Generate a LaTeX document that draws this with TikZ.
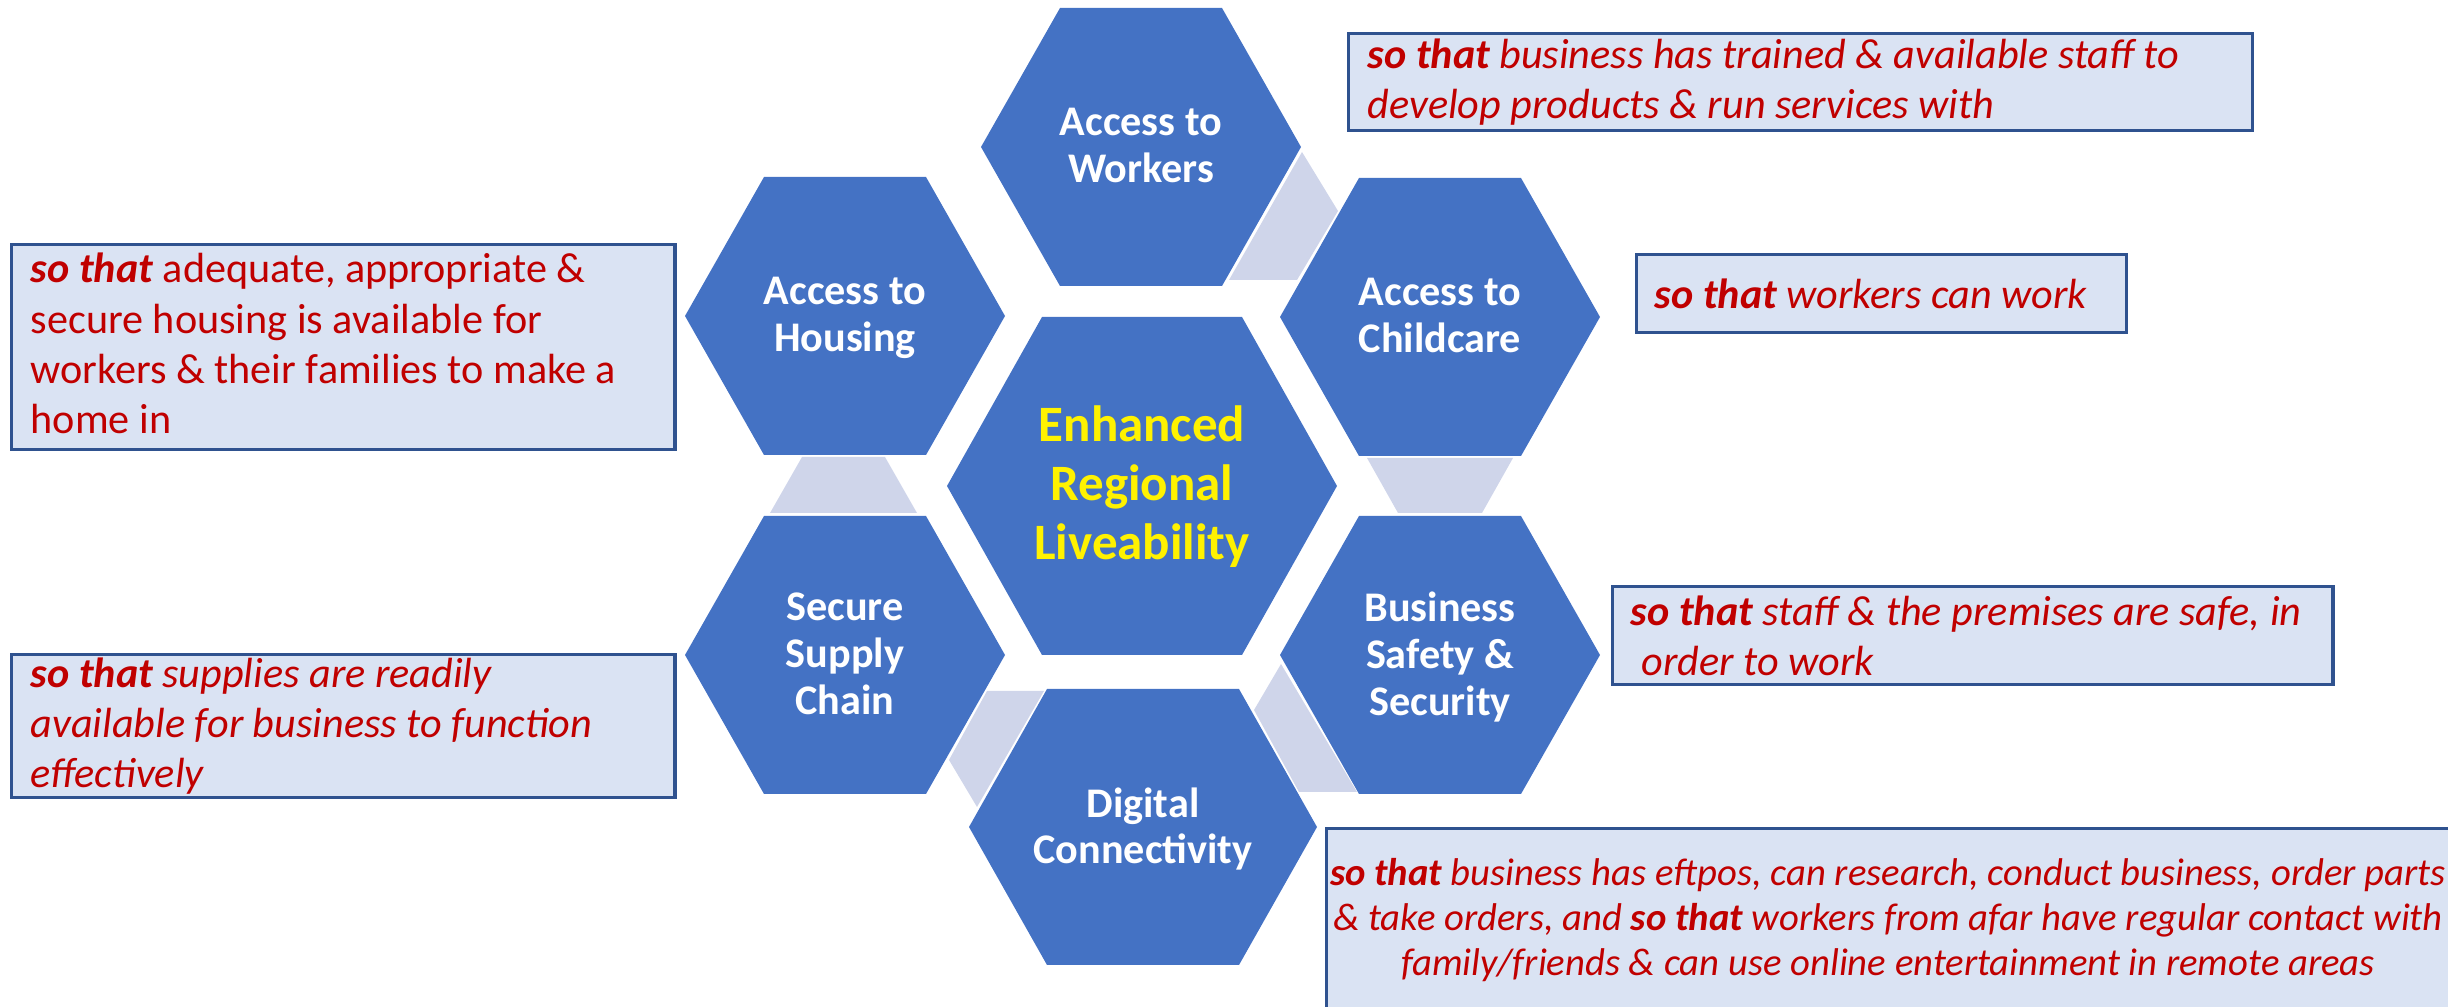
\documentclass[tikz,border=0pt]{standalone}
\usepackage{fontspec}
\setmainfont{Carlito}

\definecolor{hexblue}{HTML}{4472C4}
\definecolor{linkfill}{HTML}{CFD5EA}
\definecolor{notefill}{HTML}{DAE3F3}
\definecolor{noteline}{HTML}{2F528F}
\definecolor{notered}{HTML}{C00000}

\newcommand{\sothat}{\textbf{\textit{so that}}}

\tikzset{
  cell/.style={fill=hexblue},
  link/.style={fill=linkfill},
  celltext/.style={text=white, align=center, inner sep=0pt, yshift=-1.6pt,
    font=\bfseries\fontsize{12pt}{13.3pt}\selectfont,
    execute at begin node=\strut, execute at end node=\strut},
  notebox/.style={draw=noteline, line width=0.9pt, fill=notefill,
    inner sep=0pt, anchor=north west},
  notetext/.style={text=notered, align=left, inner sep=0pt, anchor=west,
    font=\itshape\fontsize{12pt}{14.2pt}\selectfont},
}

\begin{document}
\begin{tikzpicture}[x=0.01cm, y=-0.01cm]
  \useasboundingbox (0,0) rectangle (2448,1007);

  % hexagon cells (centre one and the six round it)
  \fill[cell] (947,486) -- (1042,317) -- (1242,317) -- (1337,486) -- (1242,655) -- (1042,655) -- cycle;
  \fill[cell] (981,147) -- (1060,8) -- (1222,8) -- (1301,147) -- (1222,286) -- (1060,286) -- cycle;
  \fill[cell] (1280,317) -- (1359,178) -- (1521,178) -- (1600,317) -- (1521,456) -- (1359,456) -- cycle;
  \fill[cell] (1280,655) -- (1359,516) -- (1521,516) -- (1600,655) -- (1521,794) -- (1359,794) -- cycle;
  \fill[cell] (969,827) -- (1047,689) -- (1239,689) -- (1317,827) -- (1239,965) -- (1047,965) -- cycle;
  \fill[cell] (685,655) -- (764,516) -- (926,516) -- (1005,655) -- (926,794) -- (764,794) -- cycle;
  \fill[cell] (685,316) -- (764,177) -- (926,177) -- (1005,316) -- (926,455) -- (764,455) -- cycle;

  % light links between neighbouring cells
  \fill[link] (1302,152) -- (1338,211) -- (1297,280) -- (1229,280) -- cycle;
  \fill[link] (1367,458) -- (1513,458) -- (1482,513) -- (1398,513) -- cycle;
  \fill[link] (1281,664) -- (1357,792) -- (1299,792) -- (1254,710) -- cycle;
  \fill[link] (987,691) -- (1044,691) -- (977,807) -- (949,760) -- cycle;
  \fill[link] (802,457) -- (885,457) -- (917,513) -- (770,513) -- cycle;

  \node[celltext, text=yellow, font=\bfseries\fontsize{14.5pt}{16.8pt}\selectfont]
    (hub) at (1142,486) {Enhanced\\Regional\\Liveability};
  \node[celltext] (workers) at (1141,147) {Access to\\Workers};
  \node[celltext] (childcare) at (1440,317) {Access to\\Childcare};
  \node[celltext] (safety) at (1440,655) {Business\\Safety \&\\Security};
  \node[celltext] (digital) at (1143,827) {Digital\\Connectivity};
  \node[celltext] (supply) at (845,655) {Secure\\Supply\\Chain};
  \node[celltext] (housing) at (845,316) {Access to\\Housing};

  % notes
  \node[notebox, minimum width=9.03cm, minimum height=0.97cm] (workersbox) at (1347,32) {};
  \node[notetext] (workersnote) at ([xshift=0.2cm]workersbox.west)
    {\sothat{} business has trained \& available staff to\\develop products \& run services with};

  \node[notebox, minimum width=4.9cm, minimum height=0.78cm] (childcarebox) at (1635,253) {};
  \node[notetext] (childcarenote) at ([xshift=0.19cm]childcarebox.west) {\sothat{} workers can work};

  \node[notebox, minimum width=7.2cm, minimum height=0.98cm] (safetybox) at (1611,585) {};
  \node[notetext] (safetynote) at ([xshift=0.19cm]safetybox.west)
    {\sothat{} staff \& the premises are safe, in\\\hspace*{0.11cm}order to work};

  \node[notebox, minimum width=11.4cm, minimum height=2.1cm] (digitalbox) at (1325,827) {};
  \node[notetext, anchor=center, align=center, font=\itshape\fontsize{11pt}{12.9pt}\selectfont]
    (digitalnote) at (1888,920)
    {\sothat{} business has eftpos, can research, conduct business, order parts\\
     \& take orders, and \sothat{} workers from afar have regular contact with\\
     family/friends \& can use online entertainment in remote areas};

  \node[notebox, minimum width=6.63cm, minimum height=1.43cm] (supplybox) at (10,653) {};
  \node[notetext] (supplynote) at ([xshift=0.2cm]supplybox.west)
    {\sothat{} supplies are readily\\available for business to function\\effectively};

  \node[notebox, minimum width=6.63cm, minimum height=2.05cm] (housingbox) at (10,243) {};
  \node[notetext, font=\fontsize{12pt}{14.3pt}\selectfont] (housingnote) at ([xshift=0.2cm, yshift=1pt]housingbox.west)
    {\sothat{} adequate, appropriate \&\\secure housing is available for\\workers \& their families to make a\\home in};
\end{tikzpicture}
\end{document}
